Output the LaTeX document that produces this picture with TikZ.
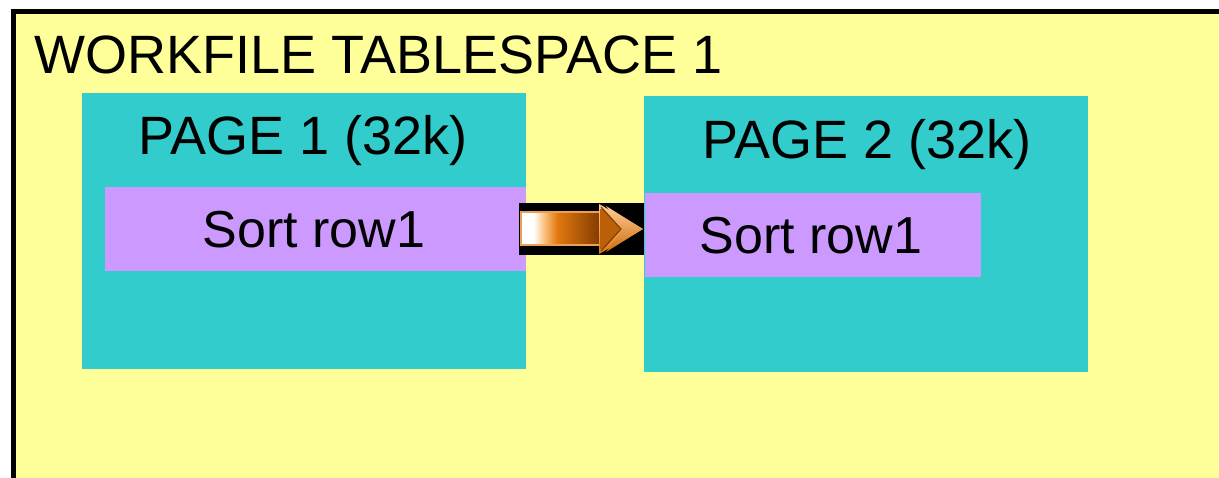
\documentclass[tikz,border=0pt]{standalone}
\usepackage{fontspec}
\setmainfont{Liberation Sans}
\definecolor{wsyellow}{HTML}{FFFF99}
\definecolor{pageteal}{HTML}{33CCCC}
\definecolor{rowpurple}{HTML}{CC99FF}
\definecolor{arrorange}{RGB}{225,120,15}
\definecolor{arrdark}{RGB}{130,60,0}
\definecolor{arrlight}{RGB}{255,205,150}
\definecolor{arrpale}{RGB}{250,190,120}
\pgfdeclarehorizontalshading{shaftshade}{100bp}{color(0bp)=(white); color(25bp)=(white); color(33bp)=(white); color(40bp)=(arrpale); color(48bp)=(arrorange); color(75bp)=(arrdark); color(100bp)=(arrdark)}
\begin{document}
\begin{tikzpicture}[x=1pt,y=-1pt,
  box/.style={draw=none,inner sep=0pt,anchor=north west},
  pagebox/.style={box,fill=pageteal},
  rowbox/.style={box,fill=rowpurple},
  lbl/.style={inner sep=0pt,anchor=base,font=\fontsize{52}{60}\selectfont},
  biglbl/.style={lbl,font=\fontsize{54}{62}\selectfont},
]
\useasboundingbox (0,0) rectangle (1219,478);
\clip (0,0) rectangle (1219,478);
% workfile tablespace
\node[box,fill=wsyellow,draw=black,line width=5pt,minimum width=1240pt,minimum height=500pt] (ws) at (10.5,9.5) {};
\node[biglbl,anchor=base west] (title) at (34,74) {WORKFILE TABLESPACE 1};
% pages
\node[pagebox,minimum width=444pt,minimum height=276pt] (p1) at (82,93) {};
\node[pagebox,minimum width=444pt,minimum height=276pt] (p2) at (644,96) {};
\node[biglbl] (p1t) at (303,155) {PAGE 1 (32k)};
\node[biglbl] (p2t) at (867,159) {PAGE 2 (32k)};
% rows
\node[rowbox,minimum width=421pt,minimum height=84pt] (r1) at (105,187) {};
\node[rowbox,minimum width=336pt,minimum height=84pt] (r2) at (645,193) {};
\node[lbl] (r1t) at (314,248) {Sort row1};
\node[lbl] (r2t) at (811,254) {Sort row1};
% arrow from row 1 to page 2
\fill[black] (519,203) rectangle (644,255);
\shade[shading=shaftshade] (521,212) rectangle (600,245);
\draw[arrorange!70!white,line width=1.5pt] (521,212) rectangle (600,245);
\shade[top color=arrlight,bottom color=arrorange]
  (599,204) -- (643,229) -- (599,254) -- cycle;
\fill[arrorange!60!arrdark] (603,209) -- (620,229) -- (603,249) -- (600,249) -- (600,209) -- cycle;
\shade[top color=arrlight,bottom color=arrorange!80!arrdark]
  (606,206) -- (643,229) -- (606,252) -- (623,229) -- cycle;
\draw[arrdark,line width=1.2pt] (601,207) -- (621,229) -- (601,251);
\end{tikzpicture}
\end{document}
